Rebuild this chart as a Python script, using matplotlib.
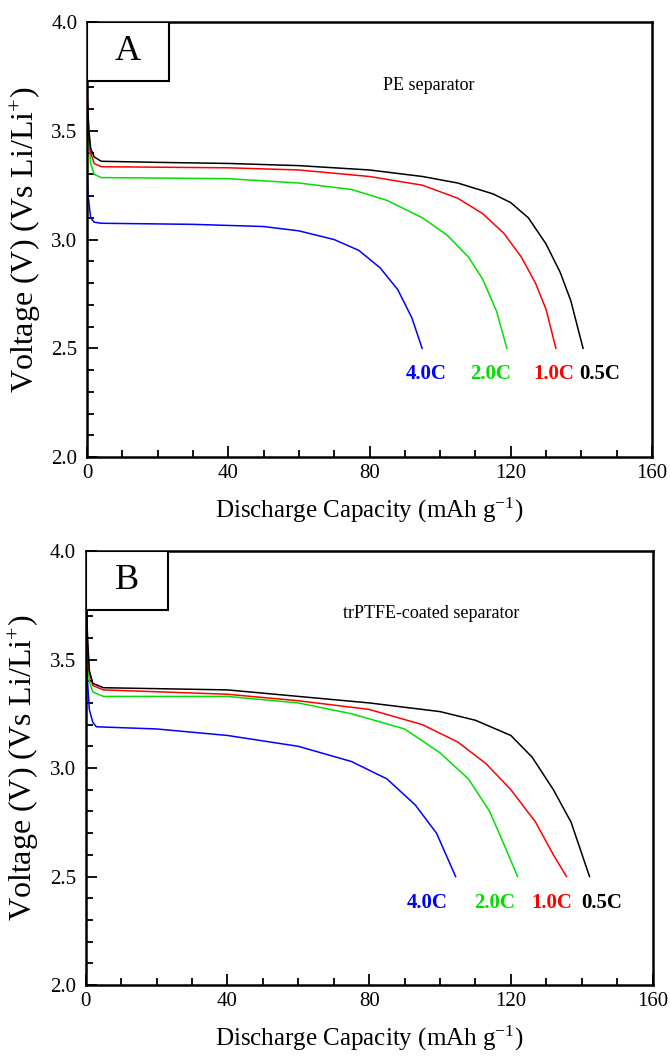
import matplotlib
matplotlib.use("Agg")
import matplotlib.pyplot as plt
from matplotlib.patches import Rectangle
from matplotlib.ticker import MultipleLocator, FormatStrFormatter

plt.rcParams['font.family'] = ['Liberation Serif', 'DejaVu Serif']
plt.rcParams['mathtext.default'] = 'regular'

rates = ["4.0C", "2.0C", "1.0C", "0.5C"]
colors = ["#0000ff", "#00e000", "#ff0000", "#000000"]

# Panel A: PE separator (capacity mAh/g, voltage V)
a_cap_05 = [0, 0.5, 1, 2, 4, 20, 40, 60, 80, 95, 105, 115, 120, 125, 130, 134, 137, 140.5]
a_v_05 = [3.65, 3.50, 3.42, 3.38, 3.36, 3.355, 3.35, 3.34, 3.32, 3.29, 3.26, 3.21, 3.17, 3.10, 2.98, 2.85, 2.72, 2.50]
a_cap_10 = [0, 0.5, 1, 2, 4, 40, 60, 80, 95, 105, 112, 118, 123, 127, 130, 132.8]
a_v_10 = [3.68, 3.50, 3.40, 3.35, 3.335, 3.33, 3.32, 3.29, 3.25, 3.19, 3.12, 3.03, 2.92, 2.80, 2.68, 2.50]
a_cap_20 = [0, 0.5, 1, 2, 4, 40, 60, 75, 85, 95, 102, 108, 112, 116, 118.9]
a_v_20 = [3.62, 3.45, 3.35, 3.30, 3.285, 3.28, 3.26, 3.23, 3.18, 3.10, 3.02, 2.92, 2.82, 2.67, 2.50]
a_cap_40 = [0, 0.3, 1, 2, 4, 30, 50, 60, 70, 77, 83, 88, 92, 94.9]
a_v_40 = [3.32, 3.20, 3.10, 3.08, 3.075, 3.07, 3.06, 3.04, 3.00, 2.95, 2.87, 2.77, 2.64, 2.50]

# Panel B: trPTFE-coated separator
b_cap_05 = [0, 0.5, 1, 2, 5, 40, 60, 80, 100, 110, 120, 126, 132, 137, 142.2]
b_v_05 = [3.90, 3.60, 3.45, 3.39, 3.37, 3.36, 3.33, 3.30, 3.26, 3.22, 3.15, 3.05, 2.90, 2.75, 2.50]
b_cap_10 = [0, 0.5, 1, 2, 5, 40, 60, 80, 95, 105, 113, 120, 127, 132, 135.7]
b_v_10 = [3.85, 3.58, 3.44, 3.38, 3.36, 3.34, 3.31, 3.27, 3.20, 3.12, 3.02, 2.90, 2.75, 2.60, 2.50]
b_cap_20 = [0, 0.5, 1, 2, 5, 40, 60, 75, 90, 100, 108, 114, 118, 121.9]
b_v_20 = [3.75, 3.50, 3.40, 3.35, 3.33, 3.33, 3.30, 3.25, 3.18, 3.07, 2.95, 2.80, 2.65, 2.50]
b_cap_40 = [0, 0.5, 1, 2, 3, 20, 40, 60, 75, 85, 93, 99, 104.4]
b_v_40 = [3.65, 3.40, 3.27, 3.21, 3.19, 3.18, 3.15, 3.10, 3.03, 2.95, 2.83, 2.70, 2.50]

panels = [
    dict(letter="A", title="PE separator", title_x=96.8,
         curves=[(a_cap_40, a_v_40), (a_cap_20, a_v_20), (a_cap_10, a_v_10), (a_cap_05, a_v_05)],
         label_x=[96, 114.4, 132.2, 145.3],
         rect=[0.130, 0.5676, 0.843, 0.4115]),
    dict(letter="B", title="trPTFE-coated separator", title_x=97.6,
         curves=[(b_cap_40, b_v_40), (b_cap_20, b_v_20), (b_cap_10, b_v_10), (b_cap_05, b_v_05)],
         label_x=[96.5, 115.5, 131.5, 145.5],
         rect=[0.128, 0.0681, 0.846, 0.4106]),
]

fig = plt.figure(figsize=(6.7, 10.57), dpi=100)
for p in panels:
    ax = fig.add_axes(p["rect"])
    for (x, y), c in zip(p["curves"], colors):
        ax.plot(x, y, color=c, lw=1.1)
    for lx, r, c in zip(p["label_x"], rates, colors):
        ax.text(lx, 2.38, r, color=c, fontsize=15, fontweight='bold', ha='center', va='center')
    ax.set_xlim(0, 160)
    ax.set_ylim(2.0, 4.0)
    ax.xaxis.set_major_locator(MultipleLocator(40))
    ax.xaxis.set_minor_locator(MultipleLocator(10))
    ax.yaxis.set_major_locator(MultipleLocator(0.5))
    ax.yaxis.set_minor_locator(MultipleLocator(0.1))
    ax.tick_params(which='both', direction='in', labelsize=15, width=1.3)
    ax.tick_params(which='major', length=8)
    ax.tick_params(which='minor', length=5)
    ax.tick_params(axis='x', pad=5)
    ax.tick_params(axis='y', pad=7)
    ax.yaxis.set_major_formatter(FormatStrFormatter('%.1f'))
    for s in ax.spines.values():
        s.set_linewidth(1.8)
    ax.set_xlabel('Discharge Capacity (mAh g$^{-1}$)', fontsize=18, labelpad=9)
    ax.set_ylabel('Voltage (V) (Vs Li/Li$^{+}$)', fontsize=23, labelpad=6)
    ax.add_patch(Rectangle((0, 0.865), 0.145, 0.135, transform=ax.transAxes,
                           facecolor='white', edgecolor='black', lw=1.5, zorder=5))
    ax.text(0.0725, 0.9325, p["letter"], transform=ax.transAxes, fontsize=26,
            ha='center', va='center', zorder=6)
    ax.text(p["title_x"], 3.71, p["title"], fontsize=13, ha='center', va='center')

fig.savefig("out.png", dpi=100)
